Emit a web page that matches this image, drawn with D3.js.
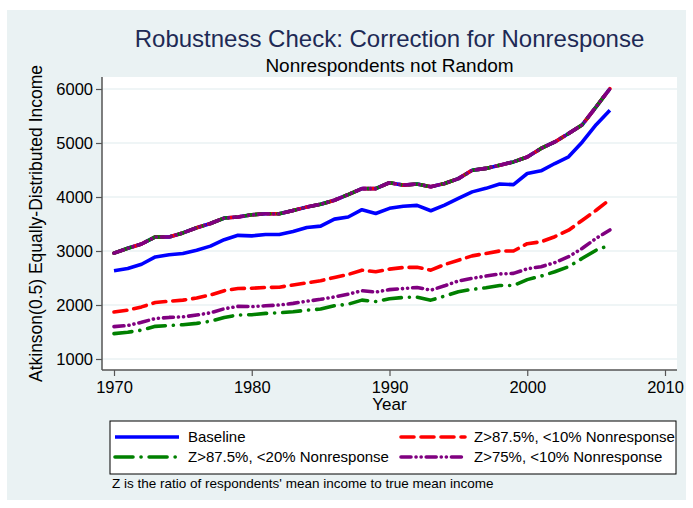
<!DOCTYPE html>
<html>
<head>
<meta charset="utf-8">
<script src="https://cdn.jsdelivr.net/npm/d3@7"></script>
<style>
  body { margin: 0; background: #fff; }
  svg { font-family: 'Liberation Sans', Arial, sans-serif; }
</style>
</head>
<body>
<div id="chart"></div>
<script>
// Data
const years = d3.range(1970, 2007);
const upperBound = [2960, 3050, 3130, 3260, 3260, 3335, 3430, 3510, 3610, 3630, 3670,
  3690, 3690, 3750, 3815, 3865, 3940, 4045, 4155, 4155, 4265,
  4220, 4240, 4190, 4250, 4340, 4495, 4530, 4590, 4650, 4740,
  4900, 5020, 5175, 5340, 5670, 6005];
const baseline = [2635, 2675, 2755, 2890, 2930, 2955, 3015, 3090, 3210, 3290, 3280,
  3305, 3305, 3360, 3435, 3460, 3590, 3630, 3765, 3695, 3790,
  3830, 3845, 3745, 3850, 3975, 4095, 4160, 4240, 4230, 4435,
  4485, 4620, 4745, 5020, 5340, 5605];
const z875nr10 = [1870, 1905, 1965, 2045, 2070, 2090, 2130, 2185, 2265, 2305, 2310,
  2325, 2330, 2370, 2410, 2450, 2510, 2565, 2645, 2615, 2665,
  2695, 2700, 2645, 2750, 2830, 2910, 2955, 3000, 3000, 3135,
  3170, 3265, 3385, 3570, 3755, 3955];
const z875nr20 = [1470, 1495, 1535, 1605, 1620, 1635, 1660, 1700, 1770, 1815, 1820,
  1845, 1855, 1875, 1905, 1925, 1985, 2015, 2090, 2065, 2115,
  2140, 2145, 2090, 2165, 2245, 2290, 2320, 2360, 2360, 2470,
  2535, 2615, 2710, 2865, 3015, 3110];
const z75nr10 = [1600, 1620, 1680, 1750, 1770, 1780, 1815, 1855, 1930, 1975, 1970,
  1985, 2000, 2030, 2070, 2105, 2150, 2200, 2265, 2240, 2285,
  2305, 2325, 2275, 2355, 2445, 2495, 2535, 2575, 2585, 2670,
  2710, 2785, 2895, 3050, 3235, 3390];
const seriesNames = ['Baseline', 'Z>87.5%, <10% Nonresponse',
  'Z>87.5%, <20% Nonresponse', 'Z>75%, <10% Nonresponse'];
const yTicks = [1000, 2000, 3000, 4000, 5000, 6000];
const xTicks = [1970, 1980, 1990, 2000, 2010];

const width = 693;
const height = 508;
const bg = '#eaf2f3';

const styles = [
  { color: '#0000ff', dash: null },
  { color: '#ff0000', dash: '13,7' },
  { color: '#008000', dash: '18,8,0.1,8' },
  { color: '#800080', dash: '10,5,0.1,5,0.1,5' }
];
const seriesValues = [baseline, z875nr10, z875nr20, z75nr10];

const svg = d3.select('#chart').append('svg')
  .attr('width', width)
  .attr('height', height);

// Graph region
svg.append('rect')
  .attr('x', 7)
  .attr('y', 10)
  .attr('width', 679)
  .attr('height', 490)
  .attr('fill', bg);

const plotL = 102, plotR = 677, plotT = 77, plotB = 370;
svg.append('rect')
  .attr('x', plotL)
  .attr('y', plotT)
  .attr('width', plotR - plotL)
  .attr('height', plotB - plotT)
  .attr('fill', '#fff');

const x = d3.scaleLinear().domain([1970, 2010]).range([114, 665]);
const y = d3.scaleLinear().domain([1000, 6000]).range([359, 89]);

// Gridlines
svg.append('g')
  .selectAll('line')
  .data(yTicks)
  .join('line')
  .attr('x1', plotL)
  .attr('x2', plotR)
  .attr('y1', d => y(d))
  .attr('y2', d => y(d))
  .attr('stroke', bg)
  .attr('stroke-width', 1.5);

// Axes
const yAxis = svg.append('g')
  .attr('transform', `translate(${plotL},0)`)
  .call(d3.axisLeft(y).tickValues(yTicks).tickSize(6).tickPadding(3).tickFormat(d3.format('d')));
const xAxis = svg.append('g')
  .attr('transform', `translate(0,${plotB})`)
  .call(d3.axisBottom(x).tickValues(xTicks).tickSize(6).tickPadding(5).tickFormat(d3.format('d')));
[yAxis, xAxis].forEach(ax => {
  ax.select('.domain').remove();
  ax.selectAll('line').attr('stroke', '#555').attr('stroke-width', 1.2);
  ax.selectAll('text').attr('fill', '#000').style('font-size', '16.5px')
    .style('font-family', "'Liberation Sans', Arial, sans-serif");
});
svg.append('line')
  .attr('x1', plotL).attr('x2', plotL)
  .attr('y1', plotT).attr('y2', plotB)
  .attr('stroke', '#555').attr('stroke-width', 1.5);
svg.append('line')
  .attr('x1', plotL).attr('x2', plotR)
  .attr('y1', plotB).attr('y2', plotB)
  .attr('stroke', '#555').attr('stroke-width', 1.5);

// Axis titles
svg.append('text')
  .attr('transform', `translate(42,${(plotT + plotB) / 2}) rotate(-90)`)
  .attr('text-anchor', 'middle')
  .style('font-size', '17.5px')
  .text('Atkinson(0.5) Equally-Distributed Income');
svg.append('text')
  .attr('x', (plotL + plotR) / 2)
  .attr('y', 410)
  .attr('text-anchor', 'middle')
  .style('font-size', '17px')
  .text('Year');

// Titles
svg.append('text')
  .attr('x', (plotL + plotR) / 2)
  .attr('y', 47)
  .attr('text-anchor', 'middle')
  .attr('fill', '#1e2a55')
  .style('font-size', '24px')
  .text('Robustness Check: Correction for Nonresponse');
svg.append('text')
  .attr('x', (plotL + plotR) / 2)
  .attr('y', 72)
  .attr('text-anchor', 'middle')
  .style('font-size', '19px')
  .text('Nonrespondents not Random');

// Lines
const line = d3.line()
  .x((d, i) => x(years[i]))
  .y(d => y(d));

const drawLine = (values, style) => {
  svg.append('path')
    .datum(values)
    .attr('d', line)
    .attr('fill', 'none')
    .attr('stroke', style.color)
    .attr('stroke-width', 3.6)
    .attr('stroke-linejoin', 'round')
    .attr('stroke-linecap', style.dash ? 'round' : 'butt')
    .attr('stroke-dasharray', style.dash);
};

// Each series also carries the shared upper bound
styles.forEach((s, i) => {
  drawLine(upperBound, s);
  drawLine(seriesValues[i], s);
});

// Legend
const legend = svg.append('g');
legend.append('rect')
  .attr('x', 110)
  .attr('y', 421)
  .attr('width', 566)
  .attr('height', 53)
  .attr('fill', '#fff')
  .attr('stroke', '#000')
  .attr('stroke-width', 1);
const legendPos = [[115, 437], [401, 437], [115, 457], [401, 457]];
seriesNames.forEach((name, i) => {
  const [lx, ly] = legendPos[i];
  legend.append('line')
    .attr('x1', lx)
    .attr('x2', lx + 64)
    .attr('y1', ly)
    .attr('y2', ly)
    .attr('stroke', styles[i].color)
    .attr('stroke-width', 3.6)
    .attr('stroke-linecap', styles[i].dash ? 'round' : 'butt')
    .attr('stroke-dasharray', styles[i].dash);
  legend.append('text')
    .attr('x', lx + 73)
    .attr('y', ly + 5)
    .style('font-size', '15px')
    .text(name);
});

// Note
svg.append('text')
  .attr('x', 112)
  .attr('y', 488)
  .style('font-size', '13.5px')
  .text("Z is the ratio of respondents' mean income to true mean income");
</script>
</body>
</html>
